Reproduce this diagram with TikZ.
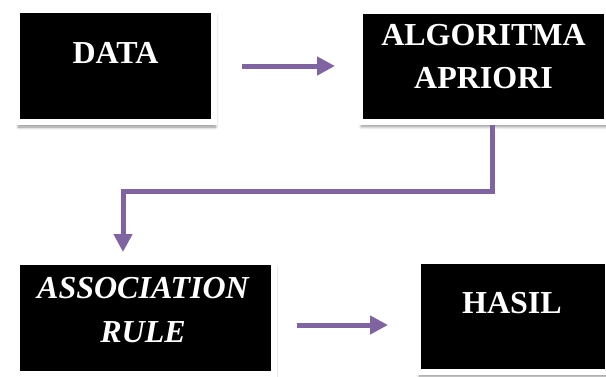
\documentclass[tikz,border=0pt]{standalone}
\usepackage{fontspec}
\setmainfont{Liberation Serif}
\usetikzlibrary{arrows.meta,shadows.blur,calc}
\definecolor{flowpurple}{HTML}{8064A2}
\tikzset{
  box/.style={rectangle, fill=black, draw=white, line width=6pt, inner sep=0pt,
    blur shadow={shadow xshift=1.5pt, shadow yshift=-5pt, shadow blur radius=3pt, shadow blur steps=8, shadow opacity=45}},
  boxtext/.style={text=white, font=\bfseries\fontsize{32}{43}\selectfont, align=center, inner sep=0pt},
  flow/.style={draw=flowpurple, line width=5pt, -{Triangle[length=18pt,width=18pt]}}
}
\begin{document}
\begin{tikzpicture}[x=1pt,y=-1pt]
\useasboundingbox (0,0) rectangle (606,376);
% boxes (size = black area + 6pt white frame)
\node[box, minimum width=197pt, minimum height=112pt] (data) at (115.5,66) {};
\node[box, minimum width=247pt, minimum height=111pt] (algo) at (483.5,66) {};
\node[box, minimum width=257pt, minimum height=112pt] (assoc) at (145.5,318) {};
\node[box, minimum width=190pt, minimum height=111pt] (hasil) at (513,316) {};
% texts
\node[boxtext] (tdata) at (115.5,53) {DATA};
\node[boxtext] (talgo) at (483.5,57) {ALGORITMA\\APRIORI};
\node[boxtext, font=\bfseries\itshape\fontsize{32}{44}\selectfont] (tassoc) at (143,310) {ASSOCIATION\\RULE};
\node[boxtext] (thasil) at (512,303) {HASIL};
% connectors
\coordinate (c1) at ($(algo.south)+(8.5,0)$);
\coordinate (c2) at ($(assoc.north)+(-22.5,0)$);
\draw[flow, shorten <=25pt, shorten >=22pt] (data.east) -- (algo.west);
\draw[flow, line cap=butt, shorten >=7pt] (c1) -- ++(0,67) -| (c2);
\draw[flow, shorten <=20pt, shorten >=27pt] ($(assoc.east)+(0,7)$) -- ($(hasil.west)+(0,9)$);
\end{tikzpicture}
\end{document}
